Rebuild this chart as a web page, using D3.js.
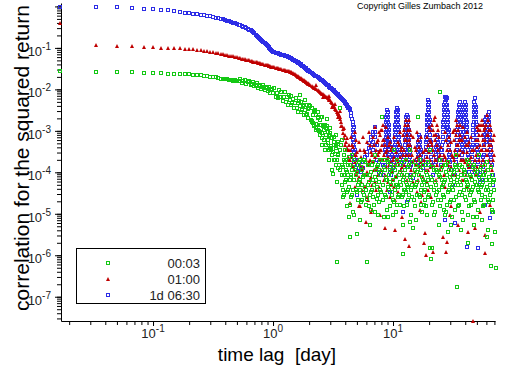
<!DOCTYPE html>
<html lang="en">
<head>
<meta charset="UTF-8" />
<title>correlation for the squared return</title>
<script src="https://cdn.jsdelivr.net/npm/d3@7"></script>
<style>
  body { margin: 0; background: #fff; }
  svg { display: block; font-family: "Liberation Sans", Arial, sans-serif; }
</style>
</head>
<body>
<svg width="512" height="366"></svg>
<script>
// series names (return horizon)
const seriesNames = ["00:03", "01:00", "1d 06:30"];
const seriesColors = ["#14c814", "#c00000", "#2d2de6"];

// lags [day] for the smooth part of the curves
const lags = [0.0167,0.0333,0.05,0.0667,0.0833,0.1,0.117,0.133,0.15,0.167,0.183,0.2,0.217,0.233,0.25,0.267,0.283,0.3,0.317,0.333,
  0.35,0.367,0.383,0.4,0.417,0.433,0.45,0.467,0.483,0.5,
  0.517,0.533,0.55,0.567,0.583,0.6,0.617,0.633,0.65,0.667,0.683,0.7,0.717,0.733,0.75,0.767,0.783,0.8,0.817,0.833,
  0.85,0.867,0.883,0.9,0.917,0.933,0.95,0.967,0.983,1,
  1.025,1.05,1.075,1.1,1.125,1.15,1.175,1.2,1.225,1.25,1.275,1.3,1.325,1.35,1.375,1.4,1.425,1.45,1.475,1.5,
  1.525,1.55,1.575,1.6,1.625,1.65,1.675,1.7,1.725,1.75,1.775,1.8,1.825,1.85,1.875,1.9,1.925,1.95,1.975,2,
  2.05,2.1,2.15,2.2,2.25,2.3,2.35,2.4,2.45,2.5,2.55,2.6,2.65,2.7,2.75,2.8,2.85,2.9,2.95,3,
  3.05,3.1,3.15,3.2,3.25,3.3,3.35,3.4,3.45,3.5,3.55,3.6,3.65,3.7,3.75,3.8,3.85,3.9,3.95,4,
  4.05,4.1,4.15,4.2,4.25,4.3,4.35,4.4,4.45,4.5,4.55,4.6];

// correlation values on those lags
const smooth0003 = [0.0279,0.0264,0.0264,0.0258,0.0255,0.025,0.0245,0.0241,0.0238,0.0236,
  0.0231,0.0229,0.0226,0.0225,0.0222,0.0215,0.0209,0.0203,0.0198,0.0201,
  0.0189,0.0178,0.0182,0.0178,0.018,0.0172,0.0169,0.0159,0.0164,0.0162,
  0.0162,0.0176,0.0142,0.0156,0.0172,0.0137,0.0149,0.016,0.0125,0.0138,
  0.0151,0.0118,0.0128,0.0139,0.0108,0.012,0.0131,0.0104,0.0112,0.0127,
  0.0094,0.0106,0.0116,0.0092,0.01,0.0113,0.0084,0.0094,0.0102,0.0081,
  0.0108,0.0066,0.0081,0.0061,0.0098,0.0066,0.0085,0.0052,0.0067,0.0085,
  0.005,0.0067,0.0042,0.0073,0.0056,0.0043,0.0069,0.0046,0.006,0.0035,
  0.0046,0.0061,0.0035,0.0047,0.0029,0.0052,0.0039,0.0029,0.005,0.0032,
  0.004,0.0024,0.0043,0.0032,0.0024,0.0043,0.0026,0.0033,0.002,0.0036,
  0.0039,0.0017,0.0024,0.0013,0.003,0.0015,0.0021,0.001,0.0014,0.0022,
  0.0009,0.0013,0.0006,0.0014,0.00078,0.0013,0.00052,0.00076,0.00035,0.00089,
  0.00044,0.00066,0.00031,0.00045,0.00071,0.00027,0.00044,0.0002,0.00048,0.00027];
const smooth0100 = [0.40,0.118,0.112,0.109,0.106,0.103,0.101,0.099,0.098,0.097,
  0.095,0.093,0.092,0.090,0.089,0.086,0.083,0.081,0.0797,0.077,
  0.0745,0.0725,0.0705,0.0686,0.0667,0.0652,0.0634,0.0621,0.0607,0.0593,
  0.0574,0.0561,0.055,0.0537,0.0528,0.0517,0.0508,0.0497,0.0489,0.0479,
  0.047,0.046,0.0452,0.0445,0.0435,0.0428,0.0421,0.0414,0.0407,0.04,
  0.0394,0.0387,0.0383,0.0377,0.0371,0.0366,0.036,0.0356,0.0352,0.0348,
  0.0341,0.0333,0.0328,0.0321,0.0315,0.0308,0.0303,0.0298,0.0293,0.0288,
  0.0284,0.0279,0.0275,0.027,0.0266,0.0261,0.0258,0.0254,0.0247,0.0239,
  0.0231,0.0224,0.0216,0.0209,0.0202,0.0196,0.019,0.0184,0.0179,0.0174,
  0.0169,0.0166,0.016,0.0156,0.0152,0.0148,0.0144,0.0141,0.0137,0.0134,
  0.0127,0.0121,0.0116,0.011,0.0105,0.00995,0.0095,0.0091,0.0087,0.0083,
  0.0079,0.0076,0.0073,0.007,0.0067,0.0065,0.0062,0.006,0.0057,0.0054,
  0.005,0.0046,0.0043,0.004,0.0037,0.0034,0.0032,0.0029,0.0027,0.0026,
  0.0024,0.0022,0.0019,0.0016,0.0013,0.0011];
const smooth1d = [0.97,0.957,0.957,0.92,0.87,0.85,0.82,0.80,0.78,0.73,
  0.70,0.68,0.66,0.64,0.62,0.61,0.59,0.58,0.57,0.54,
  0.52,0.51,0.49,0.47,0.45,0.435,0.42,0.405,0.39,0.38,
  0.366,0.352,0.341,0.328,0.317,0.307,0.293,0.277,0.264,0.25,
  0.238,0.225,0.209,0.197,0.184,0.172,0.162,0.153,0.144,0.137,
  0.13,0.124,0.117,0.112,0.105,0.0995,0.094,0.0895,0.0847,0.08,
  0.0783,0.0766,0.0749,0.0733,0.0721,0.0705,0.069,0.0678,0.0663,0.0649,
  0.0634,0.0621,0.0607,0.0597,0.0584,0.0574,0.0556,0.0537,0.052,0.0506,
  0.0489,0.0476,0.046,0.045,0.0438,0.0426,0.0414,0.0398,0.0387,0.0373,
  0.0362,0.0351,0.0339,0.0328,0.0319,0.0308,0.0298,0.0292,0.0282,0.0275,
  0.026,0.0247,0.0236,0.0225,0.0215,0.0206,0.0197,0.0189,0.0181,0.0173,
  0.0165,0.0157,0.015,0.0143,0.0137,0.0131,0.0125,0.012,0.0115,0.011,
  0.0106,0.0102,0.0098,0.0094,0.009,0.0086,0.0082,0.0079,0.0076,0.0072,
  0.007,0.0067,0.0064,0.0062,0.0059,0.0057,0.0055,0.0052,0.0049,0.0046,
  0.0044,0.0042,0.004,0.0038,0.0036,0.0035,0.0033,0.0031,0.0027,0.0023,
  0.0019,0.0016];

// noisy long-lag part: [lag, values seen at that lag]
const tail0003 = [[1.68,[7.4e-3]],[1.75,[3.2e-3]],[1.85,[5.6e-3]],[1.92,[2.4e-3]],[2.0,[4.2e-3]],[2.07,[1.8e-3]],[2.15,[1.55e-3]],
  [2.24,[3.2e-3]],[2.28,[1.06e-3]],[2.37,[2e-3]],[2.46,[8e-4]],[2.51,[1.4e-3]],[2.56,[4.6e-4]],[2.66,[1.06e-3]],[2.71,[3.5e-4]],
  [2.82,[1.9e-3]],[2.87,[6.1e-4]],[2.93,[2e-4]],[2.98,[8e-4]],[3.04,[3.5e-4]],[3.1,[1.15e-4]],[3.16,[9.2e-5]],[3.22,[4.6e-4]],
  [3.29,[2e-4]],[3.35,[8e-4]],[3.41,[5.9e-5,7e-7]],[3.48,[2.6e-4]],[3.55,[1.5e-4]],[3.62,[3.6e-3]],[3.69,[4.6e-4]],
  [3.76,[1.5e-4,5e-5,6.1e-4,8.7e-5]],[3.83,[3.8e-5]],[3.9,[2.6e-4,8.7e-5,2.9e-5,2e-4]],[3.98,[3.5e-4]],[4.06,[2e-4,1.15e-4,6.6e-5]],
  [4.14,[3.4e-5]],[4.22,[8.7e-5,3.8e-5,1.5e-4]],[4.3,[8.5e-6]],[4.38,[1.5e-4,6.6e-5,1.66e-5,2.7e-6]],[4.47,[8.7e-5]],
  [4.55,[1.15e-4,2.9e-5,2.6e-4]],[4.64,[3.8e-5]],[4.73,[2e-4,6.6e-5,9.5e-6]],[4.82,[1.15e-4]],[4.92,[8.7e-5,3.8e-5]],[5.01,[3.3e-6]],
  [5.11,[1.5e-4,2.2e-5,5e-5]],[5.31,[6.6e-5,3.8e-5,7.2e-6,2e-4]],[5.52,[1.15e-4,5e-5,2.2e-5]],[5.73,[2e-4,2.9e-5,8.7e-5]],
  [5.96,[8.7e-5,1.66e-5,3.8e-5]],[6.07,[2.3e-5,7e-7]],[6.19,[5e-5,1.5e-4]],[6.31,[1.5e-4]],[6.43,[8.7e-5,2.9e-5,5.4e-6]],
  [6.56,[1.26e-5]],[6.68,[1.5e-4,3.8e-5]],[6.81,[6.6e-5]],[6.95,[5e-5,1.66e-5]],[7.08,[2.6e-4]],[7.22,[1.15e-4,6.6e-5]],
  [7.36,[2.3e-5]],[7.5,[2.9e-5,1.5e-4,9.5e-6]],[7.64,[1.15e-4]],[7.79,[8.7e-5,2e-4,3.8e-5]],[8.1,[2.2e-3]],[8.25,[5e-5,2.2e-5]],
  [8.41,[2e-4]],[8.58,[1.15e-4,2.9e-5]],[8.74,[6.6e-5]],[8.91,[2e-4,6.6e-5,1.26e-5]],[9.08,[8.5e-6]],[9.26,[3.8e-5,8.7e-5]],
  [9.44,[1.15e-4]],[9.62,[1.5e-4,5e-5]],[9.81,[2.9e-5]],[10,[6.6e-5,2.2e-5,9.5e-6]],[10.19,[3.5e-4]],[10.39,[1.15e-4,3.8e-5]],
  [10.59,[5e-5]],[10.8,[5e-5,2e-4,1.66e-5]],[11.01,[1.5e-4]],[11.22,[8.7e-5,2.9e-5]],[11.44,[1.66e-5]],[11.66,[1.5e-4,5e-5]],
  [11.89,[8.7e-5]],[12.12,[6.6e-5,2.9e-5,5.4e-6,1.1e-6]],[12.35,[3.8e-5]],[12.59,[1.15e-4,3.8e-5]],[12.84,[2e-4]],
  [13.09,[5e-5,8.7e-5,1.66e-5]],[13.34,[2.2e-5]],[13.6,[1.5e-4,2.9e-5]],[13.86,[3.5e-4]],[14.13,[6.6e-5,3.8e-5,9.5e-6]],
  [14.4,[5e-5]],[14.68,[4.6e-6]],[14.96,[8.7e-5,2.2e-5]],[15.25,[1.15e-4]],[15.55,[1.5e-4,5e-5,7.2e-6]],[15.85,[2.9e-5]],
  [16.16,[2.1e-3]],[16.47,[8.7e-5,2.9e-5]],[16.79,[2e-4]],[17.12,[1.15e-4,3.8e-5,1.66e-5]],[17.45,[5e-5]],[17.78,[6.6e-5,1.5e-4]],
  [18.13,[1.66e-5]],[18.48,[3.8e-5,2.2e-5]],[18.84,[1.5e-4]],[19.2,[8.7e-5,5e-5,9.5e-6]],[19.58,[6.6e-5]],[19.95,[1.5e-4,2.9e-5]],
  [20.34,[3.5e-4,1.5e-6]],[20.74,[8.3e-7]],[21.13,[6.6e-5,1.66e-5,1.5e-6]],[21.96,[1.15e-4,9.5e-6,3.8e-5]],
  [22.82,[5e-5,2.9e-5,1.15e-4]],[23.71,[2.2e-5]],[24.17,[8.7e-5,3.8e-5,5.4e-6]],[24.64,[8.7e-3,2e-4]],[25.12,[1.15e-4,2.2e-5]],
  [25.61,[6.6e-5]],[26.1,[5e-5,2.9e-5]],[26.61,[1.26e-5]],[27.13,[1.5e-4,6.6e-5,9.5e-6]],[27.65,[1.5e-4]],[28.18,[8.7e-5,1.66e-5]],
  [28.73,[3.7e-6]],[29.29,[3.8e-5,1.15e-4]],[29.85,[5e-5]],[30.43,[6.6e-5,2.2e-5,5.4e-6]],[31.0,[1.15e-4]],[31.62,[8.7e-5,3.8e-5]],
  [32.24,[2.2e-5]],[32.86,[1.5e-4,5e-5,1.26e-5]],[33.5,[2.6e-4]],[34.15,[6.6e-5,1.15e-4,1.7e-7]],[34.81,[5e-5]],
  [35.48,[2.9e-5,1.66e-5]],[36.16,[1.5e-4]],[36.87,[8.7e-5,5e-5,4.1e-6]],[37.58,[2.9e-5]],[38.31,[7.2e-6]],[39.05,[1.15e-4,3.8e-5]],
  [39.81,[8.7e-5]],[40.58,[6.6e-5,2.2e-5]],[41.37,[2e-4]],[42.17,[1.5e-4,5e-5,9.5e-6,2e-6]],[42.99,[3.8e-5]],[43.83,[8.7e-5,2.9e-5]],
  [44.67,[1.66e-5]],[45.55,[6.6e-5,3.8e-5]],[46.42,[8.5e-6]],[47.32,[1.5e-4,2.2e-5,5.4e-6]],[48.24,[1.15e-4]],[49.17,[5e-5,8.7e-5]],
  [50.12,[5e-5]],[51.1,[3.8e-5,1.26e-5]],[52.1,[2.6e-4]],[53.09,[1.15e-4,6.6e-5]],[54.1,[2.2e-5]],[55.17,[2.9e-5,5e-5,7.2e-6]],
  [56.2,[8.7e-5]],[57.32,[8.7e-5,1.66e-5]],[58.4,[1.5e-4]],[59.57,[6.6e-5,3.8e-5]],[60.7,[2.7e-6]],[61.9,[1.15e-4,2.2e-5,4.1e-6,3.8e-5]],
  [64.3,[5e-5,2.9e-5,6.6e-5]],[65.6,[5.6e-7]],[66.8,[8.7e-5,1.26e-5,1.9e-6]],[68.1,[2.2e-5]],[69.4,[3.8e-5,6.6e-5]],[70.5,[3.7e-6]],
  [71.5,[5e-7]]];
const tail0003b = [[2.11,[3.6e-3,1.6e-3]],[2.2,[2.8e-3,1.4e-3]],[2.28,[2.4e-3,1.2e-3]],[2.37,[2.8e-3,1.06e-3]],[2.46,[1.8e-3,9.5e-4]],
  [2.56,[2.1e-3,6.8e-4]],[2.66,[1.4e-3,6.1e-4]],[2.76,[1.2e-3,4.6e-4]],[2.87,[9.5e-4,3.5e-4]],[2.98,[1.2e-3,3.9e-4]],
  [3.1,[6.8e-4,2.6e-4]],[3.22,[5.4e-4,2e-4]],[3.35,[3.9e-4,1.5e-4]],[3.48,[5.4e-4,1.3e-4]],[3.62,[3.5e-4,1.15e-4]],
  [3.83,[1.35e-4,2.6e-5]],[3.98,[1.8e-4,5.9e-5]],[4.14,[1.03e-4,1.5e-5]],[4.3,[2.4e-4,4.5e-5]],[4.47,[7.8e-5,2.6e-5]],
  [4.64,[1.35e-4,1.1e-5]],[5.01,[1.03e-4,3.4e-5]],[5.21,[5.9e-5,1.8e-4]],[5.41,[1.35e-4,1.95e-5]],[5.62,[7.8e-5,3.4e-5]],
  [5.84,[1.8e-4,4.5e-5]],[6.31,[5.9e-5,1.5e-5]],[6.56,[1.03e-4,3.4e-5]],[6.81,[1.8e-4,2.6e-5]],[7.08,[7.8e-5,1.1e-5]],
  [7.36,[1.35e-4,4.5e-5]],[7.64,[5.9e-5,1.95e-5]],[7.94,[1.03e-4,3.4e-5]],[8.41,[1.35e-4,8.5e-6]],[8.74,[7.8e-5,2.6e-5]],
  [9.08,[1.8e-4,4.5e-5]],[9.44,[5.9e-5,1.5e-5]],[9.81,[1.03e-4,3.4e-5]],[10.19,[1.35e-4,1.95e-5]],[10.59,[7.8e-5,1.1e-5]],
  [11.01,[4.5e-5,2.6e-5]],[11.44,[1.03e-4,5.9e-5]],[11.89,[1.8e-4,2.6e-5]],[12.35,[7.8e-5,1.5e-5]],[12.84,[5.9e-5,3.4e-5]],
  [13.34,[1.35e-4,4.5e-5]],[13.86,[7.8e-5,6.4e-6]],[14.4,[1.8e-4,2.6e-5]],[15.25,[4.5e-5,1.5e-5]],[15.85,[1.03e-4,5.9e-5]],
  [16.79,[1.35e-4,2.6e-5]],[17.45,[7.8e-5,1.1e-5]],[18.13,[5.9e-5,3.4e-5]],[18.84,[1.03e-4,1.5e-5]],[19.58,[1.8e-4,2.6e-5]],
  [20.74,[7.8e-5,4.5e-5]],[21.54,[1.35e-4,1.95e-5]],[22.39,[5.9e-5,1.1e-5]],[23.26,[1.03e-4,3.4e-5]],[24.64,[7.8e-5,1.5e-5]],
  [25.61,[1.35e-4,4.5e-5]],[26.61,[5.9e-5,2.6e-5]],[27.65,[1.03e-4,1.1e-5]],[28.73,[1.8e-4,3.4e-5]],[29.85,[7.8e-5,1.95e-5]],
  [31.0,[4.5e-5,8.5e-6]],[32.24,[1.03e-4,5.9e-5]],[33.5,[1.35e-4,2.6e-5]],[34.81,[7.8e-5,1.5e-5]],[36.16,[5.9e-5,3.4e-5]],
  [37.58,[1.35e-4,1.1e-5]],[39.81,[1.03e-4,2.6e-5]],[41.37,[5.9e-5,4.5e-5]],[42.99,[1.8e-4,1.5e-5]],[44.67,[7.8e-5,3.4e-5]],
  [46.42,[1.35e-4,4.5e-5]],[48.24,[5.9e-5,1.95e-5]],[50.12,[1.03e-4,8.5e-6]],[52.1,[7.8e-5,3.4e-5]],[54.1,[1.35e-4,4.5e-5]],
  [56.2,[5.9e-5,1.5e-5]],[58.4,[1.03e-4,2.6e-5]],[60.7,[1.8e-4,4.5e-5]],[63.1,[7.8e-5,1.95e-5]],[65.6,[1.35e-4,3.4e-5]],
  [68.1,[5.9e-5,1.1e-5]]];
const tail0100 = [[2.3,[0.0125]],[2.6,[0.0066]],[2.9,[0.0069]],[3.1,[0.0038]],[3.3,[0.0045]],[3.5,[0.0021]],[3.6,[0.003]],[3.7,[0.0013]],
  [3.85,[9e-4]],[3.9,[1.2e-3,6.8e-4]],[3.98,[8e-4,4.6e-4]],[4.06,[5.4e-4,3.5e-4]],[4.14,[3.9e-4,6.8e-4]],[4.22,[3.5e-4,2.3e-4]],
  [4.3,[4.6e-4,2e-4]],[4.38,[2e-4,1.85e-5,3.5e-4]],[4.55,[4.6e-4,1.5e-4]],[4.73,[1.15e-4,2.6e-4]],[4.92,[2.6e-4,8.7e-5,6.1e-4]],
  [5.11,[6.6e-5,2e-4]],[5.31,[1.5e-4,3.5e-4,1.5e-5]],[5.52,[3.8e-5,1.15e-4]],[5.73,[3.5e-4,8.7e-5]],[5.96,[8.7e-5,2e-4,6.4e-6]],
  [6.19,[2.2e-5,1.5e-4]],[6.43,[2e-4,6.6e-5,4.6e-4]],[6.68,[5e-5,2.6e-4,1.26e-5]],[6.95,[4.6e-4,1.15e-4]],
  [7.22,[1.15e-4,3.5e-4,3.8e-5]],[7.5,[2.6e-4,6.1e-4,8.7e-5]],[7.79,[8e-4,3.5e-4,2e-4,9.5e-6]],[7.94,[3.5e-4,1.06e-3,1.15e-4]],
  [8.1,[1.06e-3,4.6e-4,2e-4]],[8.25,[2e-4,6.1e-4,1.4e-3]],[8.41,[6.1e-4,2.6e-4,6.6e-5]],[8.58,[8.7e-5,4.6e-4,4.6e-6]],
  [8.91,[3.8e-5,2e-4,3.5e-4]],[9.26,[1.5e-4,4.6e-4]],[9.62,[3.5e-4,1.15e-4,5e-5]],[10,[6.6e-5,2e-4]],[10.39,[2.2e-5,1.5e-4,4.1e-6]],
  [10.8,[2e-4,8.7e-5]],[11.22,[4.6e-4,1.5e-4,5e-5]],[11.66,[1.15e-4,3.5e-4]],[12.12,[8e-4,2.6e-4,8.7e-5]],
  [12.35,[3.5e-4,1.06e-3,1.5e-4]],[12.59,[1.4e-3,6.1e-4,2e-4,2.4e-6]],[12.84,[6.1e-4,1.8e-3,2.6e-4]],[13.09,[2e-4,8e-4,6.6e-5]],
  [13.34,[1.06e-3,4.6e-4,1.4e-3]],[13.6,[1.8e-3,6.1e-4,2.6e-4,1.7e-6]],[13.86,[4.6e-4,1.06e-3,1.5e-4]],[14.13,[1.15e-4,3.5e-4,8e-4]],
  [14.4,[2.6e-4,8.7e-5]],[14.96,[5e-5,2e-4]],[15.55,[1.5e-4,3.5e-4]],[16.16,[6.1e-4,2e-4,6.6e-5]],[16.79,[8.7e-5,2.6e-4,1.26e-5]],
  [17.45,[2.9e-5,1.5e-4]],[18.13,[2e-4,6.6e-5,2e-6]],[18.48,[3.5e-6,3.5e-4]],[18.84,[3.5e-4,1.15e-4,1e-6]],
  [19.58,[1.15e-4,4.6e-4,3.8e-5]],[20.34,[6.1e-4,2e-4,1.06e-3]],[21.13,[1.4e-3,4.6e-4,1.5e-4]],[21.54,[3.5e-4,1.06e-3,1.2e-6]],
  [21.96,[8e-4,2.6e-4,1.8e-3]],[22.39,[2.1e-3,6.1e-4,2e-4]],[22.82,[2e-4,8e-4,6.6e-5]],[23.26,[4.6e-4,1.4e-3,1.5e-4]],
  [23.71,[1.06e-3,3.5e-4,1.15e-4]],[24.64,[1.15e-4,2.6e-4]],[25.61,[5e-5,2e-4]],[26.1,[2.7e-6,1.5e-4]],[26.61,[2.6e-4,8.7e-5]],
  [27.65,[6.1e-4,2e-4,1.2e-6]],[28.18,[2.1e-6,3.5e-4]],[28.73,[1.5e-4,4.6e-4]],[29.85,[3.5e-4,1.15e-4,9.5e-6]],[31.0,[8.7e-5,2.6e-4]],
  [32.24,[6.1e-4,2e-4,1.06e-3]],[32.86,[1.06e-3,3.5e-4,8.7e-5]],[33.5,[2.6e-4,8e-4,1.8e-3]],[34.15,[1.4e-3,4.6e-4,1.5e-4]],
  [34.81,[4.6e-4,1.06e-3,5.4e-6]],[35.48,[1.15e-4,6.1e-4,2.6e-4]],[36.16,[8e-4,3.5e-4,1.4e-3]],[36.87,[2e-4,6.1e-4]],
  [37.58,[6.1e-4,2e-4,6.6e-5]],[39.05,[6.6e-5,2e-4]],[40.58,[2e-4,4.6e-4,8.7e-5]],[42.17,[4.6e-4,1.5e-4,3.7e-6]],
  [43.83,[3.8e-5,2e-4]],[45.55,[1.5e-4,3.5e-4]],[46.42,[2.6e-8]],[47.32,[3.5e-4,1.15e-4]],[48.24,[4.6e-6,2e-4]],
  [49.17,[8.7e-5,2.6e-4,6.1e-4]],[51.1,[6.1e-4,2.6e-4,1.06e-3]],[52.1,[2e-4,8e-4,1.4e-3]],[53.09,[1.06e-3,4.6e-4,1.1e-5]],
  [54.1,[3.5e-4,1.4e-3,1.5e-4]],[55.17,[1.8e-3,8e-4,3.5e-4]],[56.2,[6.1e-4,1.4e-3,2e-4]],[57.32,[1.5e-4,1.06e-3,4.6e-4]],
  [58.4,[1.2e-3,6.1e-4,1.15e-6,3.1e-6]],[59.57,[3.5e-4,1.4e-3,1.15e-4]],[60.7,[2.4e-3,8e-4,2.6e-4]],[61.9,[8e-4,1.8e-3,3.5e-4]],
  [63.1,[2e-4,1.06e-3,4.6e-4]],[64.3,[1.4e-3,6.1e-4,1.66e-5]],[65.6,[4.6e-4,1.06e-3,1.5e-4]],[66.8,[1.15e-4,3.5e-4]],
  [68.1,[6.1e-4,2e-4]],[69.4,[2.6e-4,8e-4]]];
const tail0100b = [[4.47,[7.2e-4,2.4e-4]],[4.64,[4.1e-4,1.35e-4]],[4.82,[9.5e-4,1.8e-4,4.5e-5]],[5.01,[3.1e-4,1.03e-4]],
  [5.21,[5.4e-4,7.8e-5,1.5e-5]],[5.41,[2.4e-4,5.9e-5]],[5.62,[7.2e-4,1.35e-4]],[5.84,[3.1e-4,4.5e-5]],[6.07,[5.4e-4,1.03e-4,2.6e-5]],
  [6.31,[9.5e-4,1.8e-4]],[6.56,[3.1e-4,7.8e-5,1.1e-5]],[6.81,[7.2e-4,1.8e-4]],[7.08,[1.25e-3,2.4e-4,5.9e-5]],[7.36,[5.4e-4,1.35e-4]],
  [7.64,[9.5e-4,3.1e-4,4.5e-5]],[8.74,[1.25e-3,3.1e-4,1.35e-4]],[9.08,[7.2e-4,2.4e-4,5.9e-5]],[9.44,[5.4e-4,1.8e-4,2.6e-5]],
  [9.81,[4.1e-4,1.03e-4]],[10.19,[7.2e-4,2.4e-4,4.5e-5]],[10.59,[3.1e-4,7.8e-5]],[11.01,[5.4e-4,1.8e-4,3.4e-5]],[11.44,[9.5e-4,2.4e-4]],
  [11.89,[4.1e-4,1.35e-4,8.5e-6]],[14.68,[7.2e-4,1.8e-4,5.9e-5]],[15.25,[4.1e-4,1.03e-4]],[15.85,[9.5e-4,2.4e-4,3.4e-5]],
  [16.47,[4.1e-4,1.35e-4]],[17.12,[7.2e-4,1.8e-4,1.95e-5]],[17.78,[3.1e-4,7.8e-5]],[19.2,[7.2e-4,2.4e-4,5.9e-5]],
  [19.95,[1.25e-3,3.1e-4]],[20.74,[5.4e-4,1.35e-4,2.6e-5]],[24.17,[7.2e-4,2.4e-4,7.8e-5]],[25.12,[4.1e-4,1.35e-4]],
  [27.13,[9.5e-4,2.4e-4,4.5e-5]],[29.29,[7.2e-4,1.8e-4]],[30.43,[5.4e-4,1.35e-4,1.5e-5]],[31.62,[9.5e-4,2.4e-4]],
  [38.31,[1.25e-3,3.1e-4,1.03e-4]],[39.81,[7.2e-4,1.8e-4]],[41.37,[9.5e-4,3.1e-4,4.5e-5]],[42.99,[5.4e-4,1.35e-4]],
  [44.67,[7.2e-4,2.4e-4,7.8e-5]],[50.12,[1.25e-3,4.1e-4,1.35e-4]]];
const tail1d = [[4.64,[1.4e-3,1.06e-3,8e-4,6.1e-4,4.6e-4,3.5e-4,2.6e-4]],[4.73,[1.25e-3,9.5e-4,7.2e-4,5.4e-4,4.1e-4,3.1e-4,2.4e-4,1.8e-4]],
  [4.82,[3.5e-4,2e-4,1.15e-4]],[5.01,[2e-4,1.5e-4,2.9e-5]],[5.21,[1.3e-4]],[5.41,[1.03e-4,1.36e-4]],[5.62,[1.3e-4,1.8e-4]],
  [5.84,[1.8e-4,2.4e-4]],[6.07,[2.6e-4,3.1e-4]],[6.31,[3.9e-4,1.5e-4,5e-4]],[6.56,[6.1e-4,7.2e-4,4.1e-4]],
  [6.81,[8e-4,3.5e-4,9.5e-4,5.4e-4]],[7.08,[9.5e-4,4.6e-4,1.25e-3,7.2e-4]],[7.36,[4.6e-4,2e-4,3.1e-4]],[7.64,[1.8e-4,1.03e-4]],
  [7.94,[8.7e-5]],[8.25,[1.5e-4,8.7e-5]],
  [8.58,[6.1e-4,4.6e-4,3.5e-4,2.6e-4,2e-4,1.5e-4]],[8.74,[2.2e-3,1.65e-3,1.25e-3,9.5e-4,7.2e-4,5.4e-4,4.1e-4,3.1e-4]],
  [8.91,[3.2e-3,2.4e-3,1.8e-3,1.4e-3,1.06e-3,8e-4,6.1e-4]],[9.08,[2.8e-3,2.2e-3,1.65e-3,1.25e-3,9.5e-4,7.2e-4,5.4e-4,4.1e-4]],
  [9.26,[1.4e-3,1.06e-3,8e-4,6.1e-4,4.6e-4,3.5e-4,2.6e-4,2e-4]],[9.44,[5.4e-4,4.1e-4,3.1e-4,2.4e-4,1.8e-4,1.35e-4,1.03e-4,3.4e-5]],
  [9.62,[1.5e-4,8.7e-5]],[10,[1.3e-4]],
  [10.19,[4.1e-4,3.1e-4,2.4e-4,1.8e-4]],[10.39,[1.4e-3,1.06e-3,8e-4,6.1e-4,4.6e-4,3.5e-4,2.6e-4]],
  [10.59,[2.8e-3,2.2e-3,1.65e-3,1.25e-3,9.5e-4,7.2e-4,5.4e-4]],[10.8,[3.6e-3,2.8e-3,2.2e-3,1.65e-3,1.25e-3]],
  [11.01,[3.2e-3,2.4e-3,1.8e-3,1.4e-3,1.06e-3,8e-4,6.1e-4,4.6e-4]],[11.22,[1.25e-3,9.5e-4,7.2e-4,5.4e-4,4.1e-4,3.1e-4,2.4e-4,1.8e-4]],
  [11.44,[4.6e-4,3.5e-4,2.6e-4,2e-4,1.5e-4]],[11.89,[1.15e-4]],[12.12,[1.1e-5]],
  [12.35,[3.1e-4,2.4e-4,1.8e-4,1.35e-4]],[12.59,[1.06e-3,8e-4,6.1e-4,4.6e-4,3.5e-4,2.6e-4]],
  [12.84,[2.2e-3,1.65e-3,1.25e-3,9.5e-4,7.2e-4,5.4e-4]],[13.09,[2.4e-3,1.8e-3,1.4e-3,1.06e-3,8e-4,1.95e-5]],
  [13.34,[2.2e-3,1.65e-3,1.25e-3,9.5e-4,7.2e-4,5.4e-4,4.1e-4]],[13.6,[1.06e-3,8e-4,6.1e-4,4.6e-4,3.5e-4,2.6e-4,2e-4]],
  [13.86,[4.1e-4,3.1e-4,2.4e-4,1.8e-4,1.35e-4]],[14.13,[1.5e-4,8.7e-5]],[14.68,[7.4e-5]],[15.25,[1.15e-4]],[15.85,[2e-4,1.5e-4]],
  [16.16,[5.4e-4,4.1e-4,3.1e-4,2.4e-4,1.8e-4]],[16.47,[8e-4,6.1e-4,4.6e-4,3.5e-4,2.6e-4]],[16.79,[7.2e-4,5.4e-4,4.1e-4,3.1e-4,2.4e-4]],
  [17.12,[3.5e-4,2.6e-4,2e-4,1.5e-4]],[17.78,[1.3e-4]],[18.48,[1.5e-4]],
  [18.84,[7.2e-4,5.4e-4,4.1e-4,3.1e-4,2.4e-4,1.8e-4]],[19.2,[2.4e-3,1.8e-3,1.4e-3,1.06e-3,8e-4,6.1e-4]],
  [19.58,[5.6e-3,4.2e-3,3.2e-3,2.4e-3,1.8e-3,1.4e-3]],[19.95,[5e-3,3.8e-3,2.8e-3,2.2e-3,1.65e-3,1.25e-3,9.5e-4]],
  [20.34,[1.8e-3,1.4e-3,1.06e-3,8e-4,6.1e-4,4.6e-4,3.5e-4]],[20.74,[5.4e-4,4.1e-4,3.1e-4,2.4e-4,1.8e-4,1.35e-4]],
  [21.54,[8.7e-5]],[22.39,[1.5e-4]],
  [22.82,[4.1e-4,3.1e-4,2.4e-4,1.8e-4]],[23.26,[8e-4,6.1e-4,4.6e-4,3.5e-4]],[23.71,[7.2e-4,5.4e-4,4.1e-4,3.1e-4]],
  [24.17,[4.6e-4,3.5e-4,2.6e-4,2e-4]],[25.12,[1.5e-4,3.5e-4]],
  [25.61,[4.6e-4,3.5e-4,2.6e-4,2e-4]],[26.1,[1.65e-3,1.25e-3,9.5e-4,7.2e-4,5.4e-4]],[26.61,[4.2e-3,3.2e-3,2.4e-3,1.8e-3,1.4e-3]],
  [27.13,[6.6e-3,5e-3,3.8e-3,2.8e-3,2.2e-3,7.2e-6]],[27.65,[6.6e-3,5.6e-3,4.2e-3,3.2e-3]],
  [28.18,[6.2e-3,4.2e-3,3.2e-3,2.4e-3,1.8e-3,1.4e-3,1.2e-3]],[28.73,[2.8e-3,2.2e-3,1.65e-3,1.25e-3,9.5e-4,7.2e-4,5.4e-4]],
  [29.29,[1.06e-3,8e-4,6.1e-4,4.6e-4,3.5e-4,2.6e-4,2e-4]],[29.85,[3.1e-4,2.4e-4,1.8e-4,1.35e-4]],[30.43,[1.15e-4,6.6e-5]],
  [31.62,[5e-5]],[32.86,[8.7e-5,6.1e-6]],
  [33.5,[3.1e-4,2.4e-4,1.8e-4,1.35e-4]],[34.15,[1.06e-3,8e-4,6.1e-4,4.6e-4,3.5e-4]],[34.81,[2.8e-3,2.2e-3,1.65e-3,1.25e-3,9.5e-4]],
  [35.48,[4.2e-3,3.2e-3,2.4e-3,1.8e-3]],[36.16,[5e-3,3.8e-3,2.8e-3,2.2e-3,1.65e-3,1.25e-3]],
  [36.87,[2.2e-3,1.65e-3,1.25e-3,9.5e-4,7.2e-4,5.4e-4]],[37.58,[8e-4,6.1e-4,4.6e-4,3.5e-4,2.6e-4,2e-4]],
  [38.31,[1.25e-3,9.5e-4,7.2e-4,5.4e-4,4.1e-4,3.1e-4]],[39.05,[4.2e-3,3.2e-3,2.4e-3,1.8e-3,1.4e-3]],
  [39.81,[5e-3,3.8e-3,2.8e-3,2.2e-3]],[40.58,[4.2e-3,3.2e-3,2.4e-3,1.8e-3,1.4e-3,1.06e-3]],
  [41.37,[1.65e-3,1.25e-3,9.5e-4,7.2e-4,5.4e-4,4.1e-4,1.6e-6]],[42.17,[6.1e-4,4.6e-4,3.5e-4,2.6e-4,2e-4]],
  [42.99,[2.4e-4,1.8e-4,1.35e-4,1.03e-4]],[43.83,[8.7e-5]],
  [45.55,[4.1e-4,3.1e-4,2.4e-4,1.8e-4,1.35e-4,1.03e-4]],[46.42,[1.4e-3,1.06e-3,8e-4,6.1e-4,4.6e-4]],
  [47.32,[5e-3,3.8e-3,2.8e-3,2.2e-3,1.65e-3]],[48.24,[6.2e-3,4.2e-3,3.2e-3,2.4e-3]],
  [49.17,[3.8e-3,2.8e-3,2.2e-3,1.65e-3,1.25e-3,9.5e-4]],[50.12,[1.4e-3,1.06e-3,8e-4,6.1e-4,4.6e-4,3.5e-4]],
  [51.1,[4.1e-4,3.1e-4,2.4e-4,1.8e-4,1.35e-4,1.03e-4,1.5e-6]],[53.09,[8.7e-5,5.9e-5]],[55.17,[6.6e-5]],
  [56.2,[2.4e-4,1.8e-4,1.35e-4,1.03e-4]],[57.32,[8e-4,6.1e-4,4.6e-4,3.5e-4,2.6e-4]],[58.4,[1.8e-3,1.4e-3,1.06e-3,8e-4,1.66e-5]],
  [59.57,[2.2e-3,1.65e-3,1.25e-3,9.5e-4,7.2e-4,5.4e-4]],[60.7,[2.2e-3,1.65e-3,1.25e-3,9.5e-4,7.2e-4,5.4e-4]],
  [61.9,[2.4e-3,1.8e-3,1.4e-3,1.06e-3]],[63.1,[2.8e-3,2.2e-3,1.65e-3,1.25e-3,9.5e-4,7.2e-4]],
  [64.3,[1.06e-3,8e-4,6.1e-4,4.6e-4,3.5e-4,2.6e-4,8e-6]],[65.6,[4.1e-4,3.1e-4,2.4e-4,1.8e-4,1.35e-4]],
  [66.8,[1.5e-4,8.7e-5,1.1e-5]],[68.1,[8.7e-5,5e-5]]];

// tick label exponents
const xTickExp = [-1, 0, 1];
const yTickExp = [-1, -2, -3, -4, -5, -6, -7];

const svg = d3.select("svg");
const x = d3.scaleLog().domain([0.0171, 70.8]).range([61, 495]);
const y = d3.scaleLog().domain([2.6e-8, 1.21]).range([321, 3]);

function logTicks(scale) {
  const [a, b] = scale.domain();
  const out = [];
  for (let e = Math.floor(Math.log10(a)); e <= Math.ceil(Math.log10(b)); e++)
    for (let m = 1; m < 10; m++) {
      const v = m * Math.pow(10, e);
      if (v >= a && v <= b) out.push(v);
    }
  return out;
}
const decades = s => logTicks(s).filter(v => Math.abs(Math.log10(v) - Math.round(Math.log10(v))) < 1e-9);

// axes: minor ticks first, then longer decade ticks
svg.append("g").attr("transform", "translate(0,321)")
  .call(d3.axisBottom(x).tickValues(logTicks(x)).tickSize(4).tickSizeOuter(0).tickFormat(""));
svg.append("g").attr("transform", "translate(0,321)")
  .call(d3.axisBottom(x).tickValues(decades(x)).tickSize(5).tickSizeOuter(0).tickFormat(""))
  .select(".domain").remove();
svg.append("g").attr("transform", "translate(61,0)")
  .call(d3.axisLeft(y).tickValues(logTicks(y)).tickSize(4).tickSizeOuter(0).tickFormat(""));
svg.append("g").attr("transform", "translate(61,0)")
  .call(d3.axisLeft(y).tickValues(decades(y)).tickSize(6).tickSizeOuter(0).tickFormat(""))
  .select(".domain").remove();
svg.selectAll(".domain, .tick line").attr("stroke", "#000");

// tick labels 10^n
function powLabel(sel, e, fs) {
  sel.append("tspan").text("10");
  sel.append("tspan").attr("dy", -6).attr("font-size", fs).text(e);
}
svg.selectAll(".xlab").data(xTickExp).join("text")
  .attr("x", d => x(Math.pow(10, d))).attr("y", 338)
  .attr("text-anchor", "middle").attr("font-size", 13).attr("fill", "#222")
  .each(function (d) { powLabel(d3.select(this), d, 10); });
svg.selectAll(".ylab").data(yTickExp).join("text")
  .attr("x", 51).attr("y", d => y(Math.pow(10, d)) + 8)
  .attr("text-anchor", "end").attr("font-size", 13).attr("fill", "#222")
  .each(function (d) { powLabel(d3.select(this), d, 10); });

// axis titles
svg.append("text").attr("x", 277).attr("y", 361).attr("text-anchor", "middle")
  .attr("font-size", 19).style("white-space", "pre").text("time lag  [day]");
svg.append("text").attr("transform", "translate(29,158) rotate(-90)").attr("text-anchor", "middle")
  .attr("font-size", 21).text("correlation for the squared return");
svg.append("text").attr("x", 420).attr("y", 9).attr("text-anchor", "middle")
  .attr("font-size", 9).text("Copyright Gilles Zumbach 2012");

// markers
function drawSquares(g, pts, color) {
  g.selectAll("rect").data(pts).join("rect")
    .attr("x", d => Math.round(x(d[0])) - 1.5).attr("y", d => Math.round(y(d[1])) - 1.5)
    .attr("width", 3).attr("height", 3).attr("fill", "none").attr("stroke", color);
}
function drawTriangles(g, pts, color) {
  g.selectAll("path").data(pts).join("path")
    .attr("d", d => {
      const px = Math.round(x(d[0])), py = Math.round(y(d[1]));
      return `M${px},${py - 2}L${px + 2},${py + 2}L${px - 2},${py + 2}Z`;
    })
    .attr("fill", color);
}
const withLags = vals => vals.map((v, i) => [lags[i], v]);
const unpack = tail => tail.flatMap(([l, vs]) => vs.map(v => [l, v]));
const pts0003 = withLags(smooth0003).concat(unpack(tail0003), unpack(tail0003b));
const pts0100 = withLags(smooth0100).concat(unpack(tail0100), unpack(tail0100b));
const pts1d = withLags(smooth1d).concat(unpack(tail1d));

// longest horizon underneath, shortest on top
drawSquares(svg.append("g"), pts1d, seriesColors[2]);
drawTriangles(svg.append("g"), pts0100, seriesColors[1]);
drawSquares(svg.append("g"), pts0003, seriesColors[0]);

// legend
const legend = svg.append("g");
legend.append("rect").attr("x", 76.5).attr("y", 248.5).attr("width", 129).attr("height", 55)
  .attr("fill", "#fff").attr("stroke", "#000");
const rows = [263, 279, 295];
seriesNames.forEach((name, i) => {
  const g = legend.append("g");
  const pt = [[x.invert(108), y.invert(rows[i])]];
  if (i === 1) drawTriangles(g, pt, seriesColors[i]);
  else drawSquares(g, pt, seriesColors[i]);
  legend.append("text").attr("x", 200).attr("y", rows[i] + 5).attr("text-anchor", "end")
    .attr("font-size", 13).attr("fill", "#222").text(name);
});
</script>
</body>
</html>
